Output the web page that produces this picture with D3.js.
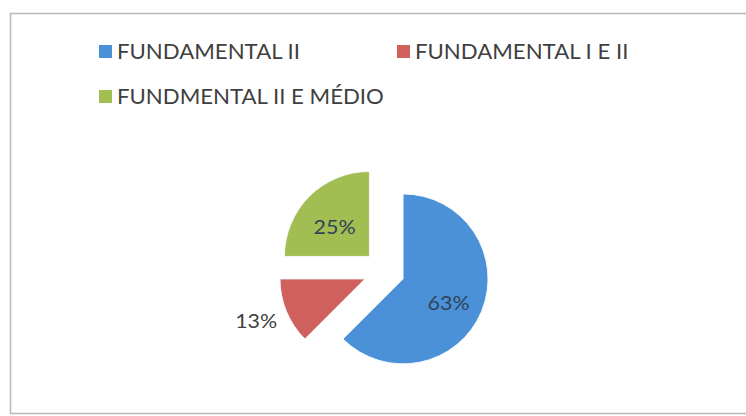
<!DOCTYPE html>
<html>
<head>
<meta charset="utf-8">
<script src="https://cdn.jsdelivr.net/npm/d3@7"></script>
<style>
  html, body { margin: 0; padding: 0; background: #fff; overflow: hidden; }
  svg { display: block; }
</style>
</head>
<body>
<svg id="chart" width="746" height="416"></svg>
<script>
// ---- data ----
const categories = ["FUNDAMENTAL II", "FUNDAMENTAL I E II", "FUNDMENTAL II E MÉDIO"];
const shares = [0.625, 0.125, 0.25];   // shown as 63%, 13%, 25%
const colors = ["#4b91d8", "#d0605e", "#a2bd52"];

// ---- layout ----
const W = 746, H = 416;
const svg = d3.select("#chart");
const font = "Lato, 'Open Sans', sans-serif";

// frame: left, top and bottom edges visible (right edge is off the picture)
svg.append("path")
  .attr("d", `M${W},13.5 H10.5 V413.5 H${W}`)
  .attr("fill", "none")
  .attr("stroke", "#b8b8b8")
  .attr("stroke-width", 1.5);

// ---- legend ----
const legendPos = [
  {x: 99, y: 45},
  {x: 397, y: 45},
  {x: 99, y: 90}
];
const legend = svg.append("g");
const items = legend.selectAll("g.item").data(categories).join("g")
  .attr("class", "item")
  .attr("transform", (d, i) => `translate(${legendPos[i].x},${legendPos[i].y})`);
items.append("rect")
  .attr("width", 13).attr("height", 13)
  .attr("fill", (d, i) => colors[i]);
const legendTexts = items.append("text")
  .attr("x", 18).attr("y", 13.5)
  .attr("font-family", font)
  .attr("font-size", 21.5)
  .attr("fill", "#3f3f3f")
  .text(d => d);
// match the narrow Calibri-like width of the original
const refLen = legendTexts.nodes()[0].getComputedTextLength();
const k = 183 / refLen;
legendTexts.each(function() {
  const L = this.getComputedTextLength();
  d3.select(this).attr("textLength", L * k).attr("lengthAdjust", "spacingAndGlyphs");
});

// ---- pie ----
const cx = 384, cy = 271, r = 85, explode = 20.6;
const pie = d3.pie().sort(null).value(d => d).startAngle(0).endAngle(2 * Math.PI);
const arcs = pie(shares);
const arc = d3.arc().innerRadius(0).outerRadius(r);
const labelArc = d3.arc().innerRadius(0).outerRadius(r * 1.16);
const pct = d3.format(".0%");

const g = svg.append("g").attr("transform", `translate(${cx},${cy})`);

function mid(d) { return (d.startAngle + d.endAngle) / 2; }
function offset(d, dist) {
  const a = mid(d);
  return [Math.sin(a) * dist, -Math.cos(a) * dist];
}

const slices = g.selectAll("g.slice").data(arcs).join("g")
  .attr("class", "slice")
  .attr("transform", d => { const o = offset(d, explode); return `translate(${o[0]},${o[1]})`; });

slices.append("path")
  .attr("d", arc)
  .attr("fill", (d, i) => colors[i])
  .attr("stroke", "#f4f8fb")
  .attr("stroke-width", 1);

slices.each(function(d, i) {
  const s = d3.select(this);
  const inside = (d.endAngle - d.startAngle) > 1.0;
  let x, y, anchor;
  if (inside) {
    [x, y] = labelArc.centroid(d);
    anchor = "middle";
  } else {
    [x, y] = offset(d, r + 10);
    anchor = Math.sin(mid(d)) < 0 ? "end" : "start";
  }
  const t = s.append("text")
    .attr("x", x).attr("y", y + 5)
    .attr("text-anchor", anchor)
    .attr("dominant-baseline", "central")
    .attr("font-family", font)
    .attr("font-size", 19.5)
    .attr("fill", inside ? "#2f4456" : "#404040")
    .text(pct(shares[i]));
  const L = t.node().getComputedTextLength();
  t.attr("textLength", L * 1.1).attr("lengthAdjust", "spacingAndGlyphs");
});
</script>
</body>
</html>
